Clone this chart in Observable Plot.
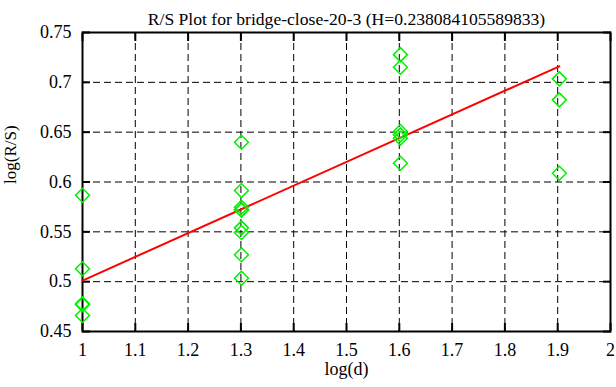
<!DOCTYPE html>
<html><head><meta charset="utf-8">
<script src="https://cdn.jsdelivr.net/npm/d3@7"></script>
<script src="https://cdn.jsdelivr.net/npm/@observablehq/plot@0.6"></script>
<style>body{margin:0;background:#fff}</style>
</head><body><div id="chart"></div>
<script>
const title = "R/S Plot for bridge-close-20-3 (H=0.238084105589833)";
const xLabel = "log(d)";
const yLabel = "log(R/S)";
const logD = [
  1, 1, 1, 1, 1,
  1.30103, 1.30103, 1.30103, 1.30103, 1.30103, 1.30103, 1.30103, 1.30103, 1.30103,
  1.60206, 1.60206, 1.60206, 1.60206, 1.60206, 1.60206,
  1.90309, 1.90309, 1.90309
];
const logRS = [
  0.5867, 0.5129, 0.4778, 0.4770, 0.4660,
  0.6399, 0.5914, 0.5747, 0.5722, 0.5718, 0.5540, 0.5493, 0.5270, 0.5035,
  0.7278, 0.7151, 0.6506, 0.6473, 0.6439, 0.6188,
  0.7035, 0.6824, 0.6088
];
const fitX = [1, 1.90309];
const fitSlope = 0.238084105589833;
const fitIntercept = 0.263;
const xTicks = [1, 1.1, 1.2, 1.3, 1.4, 1.5, 1.6, 1.7, 1.8, 1.9, 2];
const yTicks = [0.45, 0.5, 0.55, 0.6, 0.65, 0.7, 0.75];

const points = logD.map((x, i) => ({x, y: logRS[i]}));
const fit = fitX.map(x => ({x, y: fitIntercept + fitSlope * x}));

const fs = 18;
const chart = Plot.plot({
  width: 616, height: 387,
  marginLeft: 82, marginRight: 6, marginTop: 32, marginBottom: 56,
  style: {fontFamily: "Liberation Serif", fontSize: fs + "px", background: "#fff", color: "#000"},
  x: {domain: [1, 2]},
  y: {domain: [0.45, 0.75]},
  marks: [
    Plot.gridX(xTicks, {stroke: "#000", strokeOpacity: 1, strokeWidth: 1, strokeDasharray: "7,4"}),
    Plot.gridY(yTicks, {stroke: "#000", strokeOpacity: 1, strokeWidth: 1, strokeDasharray: "7,4"}),
    Plot.axisX(xTicks, {anchor: "bottom", tickSize: -8, tickPadding: 20, tickFormat: d => String(d), label: null, fontSize: fs, strokeWidth: 2}),
    Plot.axisX(xTicks, {anchor: "top", tickSize: -8, tickFormat: () => "", label: null, strokeWidth: 2}),
    Plot.axisY(yTicks, {anchor: "left", tickSize: -8, tickPadding: 19, tickFormat: d => String(d), label: null, fontSize: fs, strokeWidth: 2}),
    Plot.axisY(yTicks, {anchor: "right", tickSize: -8, tickFormat: () => "", label: null, strokeWidth: 2}),
    Plot.frame({stroke: "#000", strokeWidth: 2}),
    Plot.line(fit, {x: "x", y: "y", stroke: "#ff0000", strokeWidth: 2}),
    Plot.dot(points, {x: "x", y: "y", symbol: "diamond2", r: 6.3, stroke: "#00f000", strokeWidth: 1.5, fill: "none"}),
    Plot.text([title], {frameAnchor: "top", dy: -20, fontSize: 17.6}),
    Plot.text([xLabel], {frameAnchor: "bottom", dy: 43, fontSize: fs}),
    Plot.text([yLabel], {frameAnchor: "left", dx: -72, dy: 2, rotate: -90, fontSize: 17})
  ]
});
document.getElementById("chart").appendChild(chart);
</script>
</body></html>
